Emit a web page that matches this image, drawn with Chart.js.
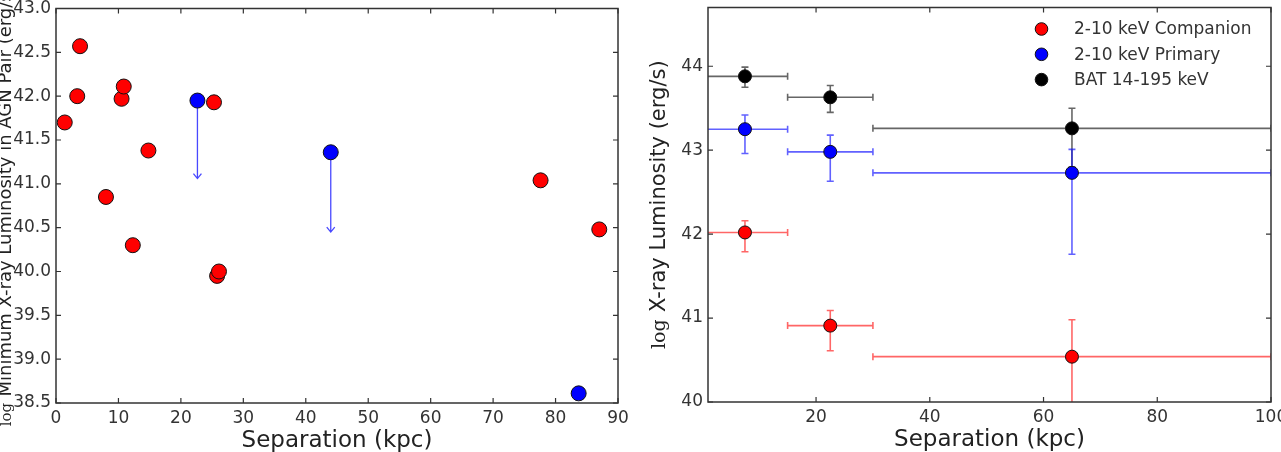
<!DOCTYPE html>
<html>
<head>
<meta charset="utf-8">
<script src="https://cdn.jsdelivr.net/npm/chart.js@4.4.1/dist/chart.umd.min.js"></script>
<style>
  html, body { margin: 0; padding: 0; background: #fff; overflow: hidden; }
  #wrap { position: relative; width: 1281px; height: 452px; }
  #left { position: absolute; left: 0; top: 0; }
  #right { position: absolute; left: 641px; top: 0; }
</style>
</head>
<body>
<div id="wrap">
  <canvas id="left" width="640" height="452"></canvas>
  <canvas id="right" width="640" height="452"></canvas>
</div>
<script>
// left panel: minimum luminosity of each pair vs separation
const leftCompX = [1.4, 3.4, 3.85, 8.0, 10.5, 10.85, 12.3, 14.8, 25.3, 25.8, 26.1, 77.6, 87.0];
const leftCompY = [41.70, 42.00, 42.57, 40.85, 41.97, 42.11, 40.30, 41.38, 41.93, 39.95, 40.00, 41.04, 40.48];
const leftPrimX = [22.65, 44.0, 83.7];
const leftPrimY = [41.95, 41.36, 38.61];
const leftPrimLimitTo = [41.06, 40.45, null];   // upper limits, arrow ends
const leftXTicks = [0, 10, 20, 30, 40, 50, 60, 70, 80, 90];
const leftYTicks = [38.5, 39.0, 39.5, 40.0, 40.5, 41.0, 41.5, 42.0, 42.5, 43.0];

// right panel: binned luminosities
const binCenter = [7.5, 22.5, 65];
const binLow = [0, 15, 30];
const binHigh = [15, 30, 100];
const compLum = [42.02, 40.91, 40.54];
const compErrHi = [0.14, 0.18, 0.44];
const compErrLo = [0.23, 0.30, 0.70];
const primLum = [43.25, 42.98, 42.73];
const primErrHi = [0.17, 0.20, 0.28];
const primErrLo = [0.29, 0.35, 0.97];
const batLum = [43.88, 43.63, 43.26];
const batErrHi = [0.11, 0.14, 0.24];
const batErrLo = [0.13, 0.18, 0.46];
const rightXTicks = [20, 40, 60, 80, 100];
const rightYTicks = [40, 41, 42, 43, 44];
const legendLabels = ['2-10 keV Companion', '2-10 keV Primary', 'BAT 14-195 keV'];

Chart.defaults.font.family = "'DejaVu Sans', sans-serif";
Chart.defaults.color = '#333';

const pts = (xs, ys) => xs.map((x, i) => ({ x: x, y: ys[i] }));

// box + inward ticks on all four sides
const framePlugin = {
  id: 'frame',
  afterDraw(chart) {
    const { ctx, chartArea: a, scales } = chart;
    ctx.save();
    ctx.strokeStyle = '#333';
    ctx.lineWidth = 1.2;
    const L = 5;
    ctx.beginPath();
    scales.x.ticks.forEach(t => {
      const px = scales.x.getPixelForValue(t.value);
      ctx.moveTo(px, a.bottom); ctx.lineTo(px, a.bottom - L);
      ctx.moveTo(px, a.top); ctx.lineTo(px, a.top + L);
    });
    scales.y.ticks.forEach(t => {
      const py = scales.y.getPixelForValue(t.value);
      ctx.moveTo(a.left, py); ctx.lineTo(a.left + L, py);
      ctx.moveTo(a.right, py); ctx.lineTo(a.right - L, py);
    });
    ctx.stroke();
    ctx.lineWidth = 1.5;
    ctx.strokeRect(a.left, a.top, a.right - a.left, a.bottom - a.top);
    ctx.restore();
  }
};

// axis titles, with a small serif "log" in front of the y title
const titlesPlugin = {
  id: 'titles',
  afterDraw(chart, args, o) {
    const { ctx, chartArea: a } = chart;
    ctx.save();
    ctx.fillStyle = '#222';
    ctx.textBaseline = 'alphabetic';
    ctx.font = o.xSize + "px 'DejaVu Sans'";
    ctx.textAlign = 'center';
    ctx.fillText(o.xTitle, (a.left + a.right) / 2, o.xBase);

    ctx.translate(o.yBase, (a.top + a.bottom) / 2);
    ctx.rotate(-Math.PI / 2);
    ctx.textAlign = 'left';
    ctx.font = o.logSize + "px 'DejaVu Serif'";
    const lw = ctx.measureText('log').width;
    ctx.font = o.ySize + "px 'DejaVu Sans'";
    const mw = ctx.measureText(o.yTitle).width;
    const gap = o.ySize * 0.35;
    let x0 = -(lw + gap + mw) / 2;
    ctx.font = o.logSize + "px 'DejaVu Serif'";
    ctx.fillText('log', x0, 0);
    ctx.font = o.ySize + "px 'DejaVu Sans'";
    ctx.fillText(o.yTitle, x0 + lw + gap, 0);
    ctx.restore();
  }
};

// upper-limit arrows for the left panel
const arrowPlugin = {
  id: 'arrows',
  beforeDatasetsDraw(chart) {
    const { ctx, scales } = chart;
    ctx.save();
    ctx.strokeStyle = 'rgba(40,40,255,0.85)';
    ctx.lineWidth = 1.3;
    leftPrimX.forEach((x, i) => {
      if (leftPrimLimitTo[i] == null) return;
      const px = scales.x.getPixelForValue(x);
      const y0 = scales.y.getPixelForValue(leftPrimY[i]);
      const y1 = scales.y.getPixelForValue(leftPrimLimitTo[i]);
      ctx.beginPath();
      ctx.moveTo(px, y0); ctx.lineTo(px, y1);
      ctx.moveTo(px - 4, y1 - 5); ctx.lineTo(px, y1); ctx.lineTo(px + 4, y1 - 5);
      ctx.stroke();
    });
    ctx.restore();
  }
};

// x and y error bars for the right panel
const errorPlugin = {
  id: 'errbars',
  beforeDatasetsDraw(chart) {
    const { ctx, chartArea: a, scales } = chart;
    ctx.save();
    ctx.beginPath();
    ctx.rect(a.left, a.top, a.right - a.left, a.bottom - a.top);
    ctx.clip();
    ctx.lineWidth = 1.6;
    const cap = 3.5;
    chart.data.datasets.slice().reverse().forEach(ds => {
      ctx.strokeStyle = ds.errColor;
      ds.data.forEach((p, i) => {
        const px = scales.x.getPixelForValue(p.x);
        const py = scales.y.getPixelForValue(p.y);
        const xl = scales.x.getPixelForValue(ds.xLow[i]);
        const xh = scales.x.getPixelForValue(ds.xHigh[i]);
        const yt = scales.y.getPixelForValue(p.y + ds.yHi[i]);
        const yb = scales.y.getPixelForValue(p.y - ds.yLo[i]);
        ctx.beginPath();
        ctx.moveTo(xl, py); ctx.lineTo(xh, py);
        ctx.moveTo(xl, py - cap); ctx.lineTo(xl, py + cap);
        ctx.moveTo(xh, py - cap); ctx.lineTo(xh, py + cap);
        ctx.moveTo(px, yt); ctx.lineTo(px, yb);
        ctx.moveTo(px - cap, yt); ctx.lineTo(px + cap, yt);
        ctx.moveTo(px - cap, yb); ctx.lineTo(px + cap, yb);
        ctx.stroke();
      });
    });
    ctx.restore();
  }
};

const legendPlugin = {
  id: 'ptlegend',
  afterDraw(chart) {
    const { ctx } = chart;
    const cols = ['#ff0000', '#0000ff', '#000000'];
    ctx.save();
    ctx.font = "17px 'DejaVu Sans'";
    ctx.textBaseline = 'middle';
    ctx.textAlign = 'left';
    legendLabels.forEach((lab, i) => {
      const y = 29 + i * 25.3;
      ctx.beginPath();
      ctx.arc(1041.5 - 641, y, 6.3, 0, Math.PI * 2);
      ctx.fillStyle = cols[i];
      ctx.fill();
      ctx.strokeStyle = '#111';
      ctx.lineWidth = 1;
      ctx.stroke();
      ctx.fillStyle = '#333';
      ctx.fillText(lab, 1074 - 641, y + 1);
    });
    ctx.restore();
  }
};

function fixAxes(yWidth, xHeight) {
  return {
    x: {
      afterFit(s) { s.height = xHeight; s.paddingLeft = 0; s.paddingRight = 0; }
    },
    y: {
      afterFit(s) { s.width = yWidth; s.paddingTop = 0; s.paddingBottom = 0; }
    }
  };
}

function axisOpts(min, max, tickVals, fmt, fit) {
  return {
    type: 'linear', min: min, max: max,
    grid: { display: false, drawTicks: false },
    border: { display: false },
    ticks: { padding: 5, font: { size: 17 }, color: '#333', callback: fmt },
    afterBuildTicks(s) { s.ticks = tickVals.map(v => ({ value: v })); },
    afterFit: fit.afterFit
  };
}

const leftFit = fixAxes(56, 49);
new Chart(document.getElementById('left'), {
  type: 'scatter',
  data: {
    datasets: [
      {
        label: 'Primary',
        data: pts(leftPrimX, leftPrimY),
        backgroundColor: '#0000ff', borderColor: '#111', borderWidth: 1,
        pointRadius: 7.5, pointHoverRadius: 7.5
      },
      {
        label: 'Companion',
        data: pts(leftCompX, leftCompY),
        backgroundColor: '#ff0000', borderColor: '#111', borderWidth: 1,
        pointRadius: 7.5, pointHoverRadius: 7.5
      }
    ]
  },
  options: {
    responsive: false,
    animation: false,
    layout: { padding: { left: 0, top: 6, right: 22, bottom: 0 } },
    plugins: {
      legend: { display: false },
      tooltip: { enabled: false },
      titles: {
        xTitle: 'Separation (kpc)', xSize: 23, xBase: 447,
        yTitle: 'Minimum X-ray Luminosity in AGN Pair (erg/s)', ySize: 18, logSize: 15, yBase: 11
      }
    },
    scales: {
      x: axisOpts(0, 90, leftXTicks, v => String(v), leftFit.x),
      y: axisOpts(38.5, 43.0, leftYTicks, v => v.toFixed(1), leftFit.y)
    }
  },
  plugins: [arrowPlugin, framePlugin, titlesPlugin]
});

const rightFit = fixAxes(67, 50);
function errSet(label, color, errColor, lum, hi, lo) {
  return {
    label: label,
    data: pts(binCenter, lum),
    backgroundColor: color, borderColor: '#111', borderWidth: 1,
    pointRadius: 6.5, pointHoverRadius: 6.5,
    errColor: errColor, xLow: binLow, xHigh: binHigh, yHi: hi, yLo: lo
  };
}
new Chart(document.getElementById('right'), {
  type: 'scatter',
  data: {
    datasets: [
      errSet(legendLabels[0], '#ff0000', 'rgba(255,0,0,0.6)', compLum, compErrHi, compErrLo),
      errSet(legendLabels[1], '#0000ff', 'rgba(0,0,255,0.62)', primLum, primErrHi, primErrLo),
      errSet(legendLabels[2], '#000000', 'rgba(0,0,0,0.6)', batLum, batErrHi, batErrLo)
    ]
  },
  options: {
    responsive: false,
    animation: false,
    layout: { padding: { left: 0, top: 6, right: 10, bottom: 0 } },
    plugins: {
      legend: { display: false },
      tooltip: { enabled: false },
      titles: {
        xTitle: 'Separation (kpc)', xSize: 23, xBase: 446,
        yTitle: 'X-ray Luminosity (erg/s)', ySize: 21, logSize: 19, yBase: 24
      }
    },
    scales: {
      x: axisOpts(1, 100, rightXTicks, v => String(v), rightFit.x),
      y: axisOpts(40, 44.7, rightYTicks, v => String(v), rightFit.y)
    }
  },
  plugins: [errorPlugin, framePlugin, titlesPlugin, legendPlugin]
});
</script>
</body>
</html>
